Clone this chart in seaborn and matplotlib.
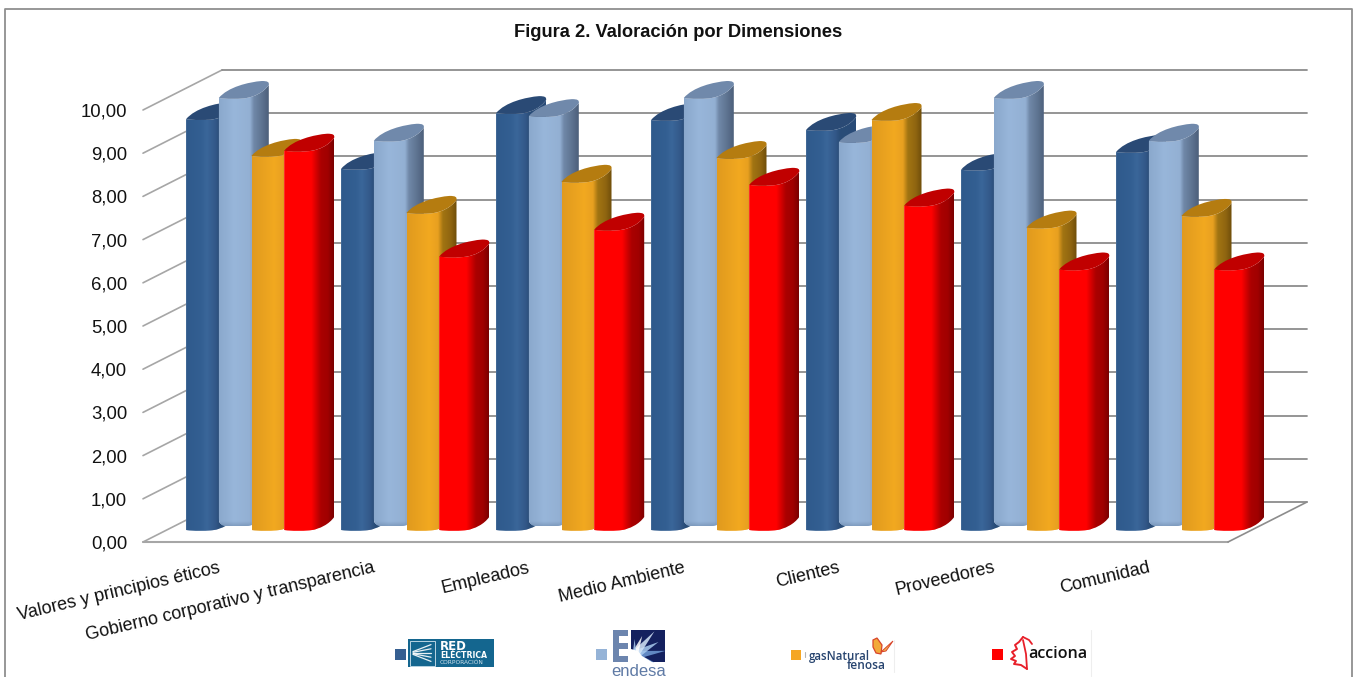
import numpy as np
import pandas as pd
import seaborn as sns
import matplotlib
matplotlib.use("Agg")
import matplotlib.pyplot as plt
from matplotlib.path import Path
from matplotlib.patches import PathPatch, Rectangle, Polygon
from matplotlib.transforms import Affine2D
from matplotlib.colors import to_rgb

dimensions = ["Valores y principios éticos", "Gobierno corporativo y transparencia",
              "Empleados", "Medio Ambiente", "Clientes", "Proveedores", "Comunidad"]
companies = ["Red Eléctrica", "Endesa", "Gas Natural Fenosa", "Acciona"]
red_electrica = [9.51, 8.36, 9.65, 9.49, 9.26, 8.34, 8.75]
endesa = [10.00, 9.01, 9.58, 10.00, 8.98, 10.00, 9.01]
gas_natural = [8.66, 7.34, 8.06, 8.61, 9.49, 7.00, 7.27]
acciona = [8.78, 6.33, 6.95, 7.99, 7.51, 6.03, 6.03]
y_ticks = list(range(0, 11))

W, H = 1360, 677
PX_X, PX_Y = 1 / 155, 1 / 43.2
SHIFT_X, SHIFT_Y = 31 * PX_X, 12 * PX_Y

sns.set_theme(style="white")
plt.rcParams["font.family"] = ["Liberation Sans", "DejaVu Sans"]

frame = pd.DataFrame({
    "dimension": dimensions * 4,
    "company": np.repeat(companies, len(dimensions)),
    "score": red_electrica + endesa + gas_natural + acciona,
})

fig = plt.figure(figsize=(W / 100, H / 100), dpi=100)
ax = fig.add_axes([143 / W, 1 - 542 / H, (1321 - 143) / W, (542 - 60) / H])
palette = ["#365f91", "#95b3d7", "#e9a020", "#ff0000"]
sns.barplot(data=frame, x="dimension", y="score", hue="company", order=dimensions,
            hue_order=companies, palette=palette, width=0.844, gap=0, saturation=1,
            legend=False, ax=ax, errorbar=None)
ax.set_autoscale_on(False)
ax.set_xlim(-0.5, 6.5 + 93 * PX_X)
ax.set_ylim(0, 482 * PX_Y)
ax.set_xlabel("")
ax.set_ylabel("")
sns.despine(ax=ax, left=True, bottom=True)
ax.patch.set_alpha(0)

# 3D walls: side wall, back wall and floor
wall_dx, wall_dy = 79 * PX_X, 40 * PX_Y
for v in y_ticks:
    ax.plot([-0.5, -0.5 + wall_dx], [v, v + wall_dy], color="#a6a6a6", lw=1.2, zorder=1, clip_on=False)
    ax.plot([-0.5 + wall_dx, 6.5 + wall_dx], [v + wall_dy] * 2, color="#8c8c8c", lw=1.3, zorder=1, clip_on=False)
ax.plot([-0.5, 6.5], [0, 0], color="#a6a6a6", lw=1.5, zorder=1, clip_on=False)
ax.plot([6.5, 6.5 + wall_dx], [0, wall_dy], color="#8c8c8c", lw=1.2, zorder=1, clip_on=False)

ax.set_yticks(y_ticks)
ax.set_yticklabels([f"{v:.2f}".replace(".", ",") for v in y_ticks], fontsize=13.3, color="#111111")
ax.tick_params(axis="y", length=0, pad=11.5)
ax.set_xticks(range(len(dimensions)))
ax.set_xticklabels(dimensions, fontsize=13, color="#111111", rotation=13.3, ha="right",
                   rotation_mode="anchor", va="baseline")
ax.tick_params(axis="x", length=0, pad=21.6)

# Shading across the cylinder width: (position 0-1, colour)
shades = [
    [(0, "#2f5a8c"), (.3, "#335f92"), (.42, "#3a6699"), (.58, "#33598a"), (.68, "#2a4d78"), (1, "#294b77")],
    [(0, "#8aa8cc"), (.3, "#98b6da"), (.62, "#93b0d3"), (.70, "#7088a8"), (.85, "#5f7592"), (1, "#4c5f7a")],
    [(0, "#e09a1e"), (.45, "#f2a920"), (.62, "#e8a020"), (.72, "#a27412"), (.88, "#8f6510"), (1, "#6e4d0a")],
    [(0, "#ff0000"), (.55, "#ff0000"), (.74, "#aa0000"), (.88, "#a00000"), (1, "#7a0000")],
]
cap_colors = ["#2a4a75", "#7089ab", "#b57c10", "#c00000"]
SPAN = 50


def lower_edge():
    return [(8, 1.2), (18, 1), (25, .4), (36, -.8), (45, -6), (SPAN, -13)]


def body_path(x0, base, top, rounded):
    to_x = lambda px: x0 + px * PX_X
    verts, codes = [(x0, top), (x0, base if not rounded else base + 12 * PX_Y)], [Path.MOVETO, Path.LINETO]
    if rounded:
        pts = [(0, -6), (3, -4), (9, -4), (16, -4), (22, -4), (27, -4), (33, -4), (43, -8), (SPAN, -13)]
    else:
        pts = lower_edge()
    verts += [(to_x(px), base - py * PX_Y) for px, py in pts]
    codes += [Path.CURVE4] * len(pts)
    verts.append((to_x(SPAN), top + 13 * PX_Y))
    codes.append(Path.LINETO)
    rev = [(0, 0)] + lower_edge()[:-1]
    for px, py in reversed(rev):
        verts.append((to_x(px), top - py * PX_Y))
        codes.append(Path.CURVE4)
    verts.append((x0, top))
    codes.append(Path.CLOSEPOLY)
    return Path(verts, codes)


def cap_path(x0, top):
    to_x = lambda px: x0 + px * PX_X
    pts = [(0, 0)] + lower_edge()
    verts = [(to_x(px), top - py * PX_Y) for px, py in pts]
    codes = [Path.MOVETO] + [Path.CURVE4] * 6
    upper = [(SPAN + .5, -16), (49, -17), (43, -17), (30, -16), (9, -11), (0, 0)]
    verts += [(to_x(px), top - py * PX_Y) for px, py in upper]
    codes += [Path.CURVE4] * 6
    return Path(verts, codes)


for idx, container in enumerate(ax.containers):
    stops = shades[idx]
    pos = np.linspace(0, 1, 200)
    strip = np.stack([np.interp(pos, [s[0] for s in stops], [to_rgb(s[1])[c] for s in stops])
                      for c in range(3)], axis=-1)[None, :, :]
    for bar in container:
        x0 = bar.get_x() + SHIFT_X
        base = SHIFT_Y
        top = bar.get_height() + SHIFT_Y
        zo = 3 + idx
        bar.set_transform(Affine2D().translate(SHIFT_X, SHIFT_Y) + ax.transData)
        bar.set_zorder(zo)
        path = body_path(x0, base, top, rounded=idx == 1)
        bar.set_clip_path(path, transform=ax.transData)
        im = ax.imshow(strip, extent=(x0, x0 + SPAN * PX_X, base - 3 * PX_Y, top + 14 * PX_Y),
                       aspect="auto", zorder=zo, interpolation="bilinear")
        im.set_clip_path(path, transform=ax.transData)
        if idx == 1:
            fade = np.zeros((20, 2, 4))
            fade[..., :3] = to_rgb("#5f7a9c")
            fade[..., 3] = np.linspace(0, .75, 20)[:, None]
            shade = ax.imshow(fade, extent=(x0, x0 + SPAN * PX_X, base, base + 9 * PX_Y),
                              aspect="auto", zorder=zo, interpolation="bilinear")
            shade.set_clip_path(path, transform=ax.transData)
        ax.add_patch(PathPatch(cap_path(x0, top), facecolor=cap_colors[idx], edgecolor="none", zorder=zo))

# Pixel-addressed overlay for the outer frame, title and company logos
ov = fig.add_axes([0, 0, 1, 1], zorder=10)
ov.set_xlim(0, W)
ov.set_ylim(H, 0)
ov.set_autoscale_on(False)
ov.axis("off")
ov.plot([5, 5, 1352, 1352], [H + 5, 9, 9, H + 5], color="#8f8f8f", lw=1.3, clip_on=True)
ov.text(678.5, 32.5, "Figura 2. Valoración por Dimensiones", fontsize=13.2, fontweight="bold",
        ha="center", va="center", color="#111111")

for x, y, s, c in [(395, 649, 11, palette[0]), (596, 649, 11, palette[1]),
                   (791, 650, 10, "#f5a623"), (992, 649, 10.5, palette[3])]:
    ov.add_patch(Rectangle((x, y), s, s, facecolor=c, edgecolor="none"))

# Red Eléctrica
ov.add_patch(Rectangle((408, 639), 86, 28, facecolor="#14668f", edgecolor="none"))
ov.add_patch(Rectangle((409.5, 641), 25, 24.5, facecolor="none", edgecolor="#b9d4e2", lw=.7))
for dy in (-7, -3.5, 0, 3.5, 7):
    ov.plot([413, 422, 431], [653 + dy * .2, 653 + dy * .7, 653 + dy * 1.2], color="white", lw=.9, alpha=.9)
ov.text(440, 646, "RED", color="white", fontsize=8.5, fontweight="bold", va="center", family="DejaVu Sans")
ov.text(440, 655.5, "ELÉCTRICA", color="white", fontsize=5.6, fontweight="bold", va="center", family="DejaVu Sans")
ov.text(440, 663, "CORPORACIÓN", color="#cfe2ec", fontsize=4.2, va="center", family="DejaVu Sans")

# Endesa
ov.add_patch(Rectangle((613, 630), 15, 32, facecolor="#6c85ae", edgecolor="none"))
for yb in (636, 649):
    ov.add_patch(Rectangle((619, yb), 9.5, 7, facecolor="white", edgecolor="none"))
ov.add_patch(Rectangle((631, 630), 34, 32, facecolor="#14215f", edgecolor="none"))
for ang, ln, col in [(8, 30, "#6f9bd6"), (30, 26, "#a9cbef"), (52, 30, "#d5e6f8"), (72, 20, "#ffffff"),
                     (95, 16, "#a9cbef"), (-22, 20, "#6f9bd6"), (-55, 9, "#a9cbef")]:
    a = np.radians(ang)
    tip = (636 + ln * np.cos(a), 655 - ln * np.sin(a))
    ov.add_patch(Polygon([(633, 651), (637, 659), tip], closed=True, facecolor=col, edgecolor="none", alpha=.85))
ov.add_patch(Polygon([(631, 662), (631, 649), (638, 651), (642, 656), (652, 662)], closed=True,
                     facecolor="white", edgecolor="none"))
ov.text(638.5, 671, "endesa", color="#5f7aa5", fontsize=12, ha="center", va="center")

# Gas Natural Fenosa
ov.plot([805, 805], [652, 657], color="#b5b5b5", lw=.8)
ov.text(809, 656.5, "gasNatural", color="#27446f", fontsize=8.3, fontweight="semibold", va="center", family="Open Sans")
ov.text(847, 665.5, "fenosa", color="#27446f", fontsize=8.6, fontweight="semibold", va="center", family="Open Sans")
ov.add_patch(Polygon([(873, 640), (877, 638), (882, 645), (881, 654), (876, 653), (873, 647)], closed=True,
                     facecolor="#f2a93a", edgecolor="#d8452c", lw=.9))
ov.add_patch(Polygon([(881, 652), (893, 641), (886, 651)], closed=True, facecolor="#f4b64f", edgecolor="#d8452c", lw=.7))
ov.plot([893.5, 893.5], [640, 672], color="#eeeeee", lw=.8)

# Acciona
leaf_x = [1023, 1019, 1015, 1017, 1012, 1015, 1011, 1016, 1014, 1021, 1027]
leaf_y = [637, 642, 645, 649, 652, 656, 659, 661, 664, 665, 669]
ov.plot(leaf_x, leaf_y, color="#e8202a", lw=1.4)
ov.plot([1023, 1029, 1032], [637, 640, 644], color="#e8202a", lw=1.3)
ov.plot([1023, 1026, 1027], [640, 654, 669], color="#e8202a", lw=1.3)
ov.text(1028.5, 654, "acciona", color="#111111", fontsize=11.6, fontweight="semibold", va="center", family="Open Sans")
ov.plot([1090.5, 1090.5], [630, 676], color="#eeeeee", lw=.8)

fig.savefig("out.png", dpi=100, facecolor="white")
